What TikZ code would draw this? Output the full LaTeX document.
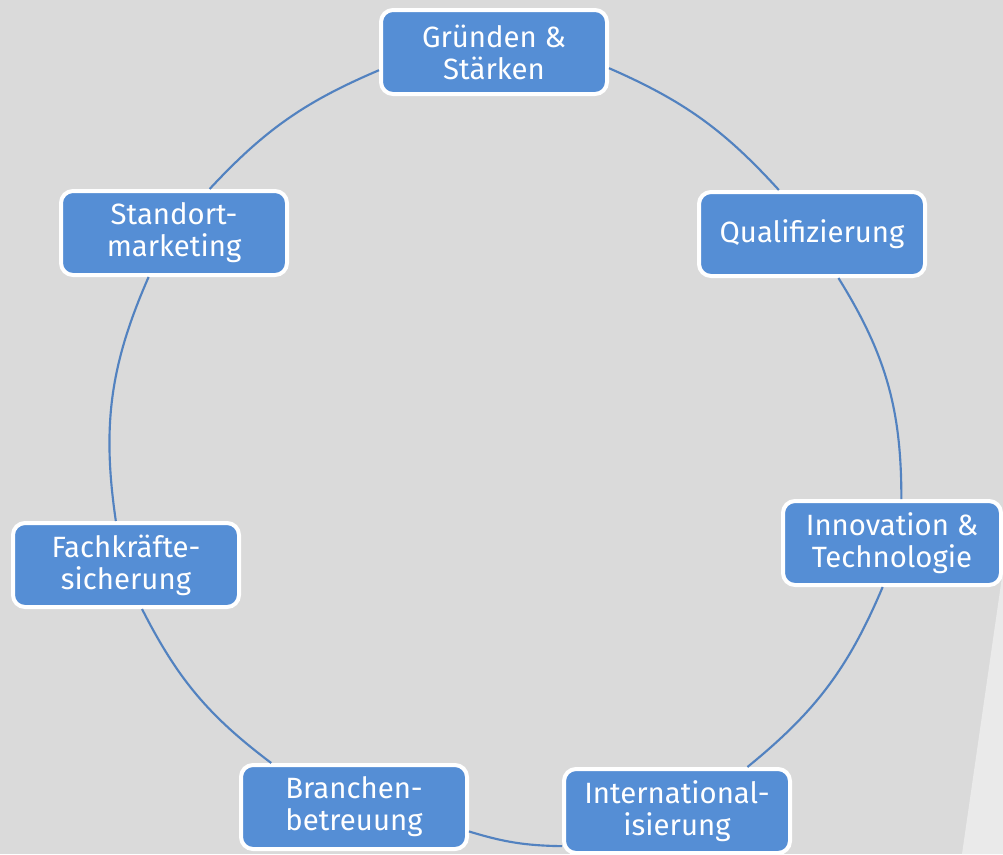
\documentclass[tikz,border=0pt]{standalone}
\usepackage{fontspec}
\setmainfont{Fira Sans}
\usepackage{tikz}

\definecolor{bggray}{RGB}{218,218,218}
\definecolor{bglight}{RGB}{234,234,234}
\definecolor{ringblue}{RGB}{82,130,192}
\definecolor{boxblue}{RGB}{85,142,213}

\tikzset{
  fieldbox/.style={draw=white, line width=3pt, fill=boxblue, rounded corners=9pt,
    text=white, minimum width=169.5pt, minimum height=63pt, align=center,
    inner sep=0pt, font=\fontsize{22}{24}\selectfont},
  ring/.style={draw=ringblue, line width=1.6pt},
}

\begin{document}
\begin{tikzpicture}[x=0.75pt,y=0.75pt,yscale=-1]
%Background
\useasboundingbox (0,0) rectangle (1003,854);
\fill [bggray] (0,0) rectangle (1003,854);
\fill [bglight] (1003,570) -- (962,854) -- (1003,854) -- cycle;

% Text Nodes
\node [fieldbox] (gruenden) at (494,52) {Gründen \&\\Stärken};
\node [fieldbox] (quali) at (812,234) {Qualifizierung};
\node [fieldbox, minimum width=163.5pt] (innovation) at (892,543) {Innovation \&\\Technologie};
\node [fieldbox] (international) at (677,811) {International-\\isierung};
\node [fieldbox] (branchen) at (354,807) {Branchen-\\betreuung};
\node [fieldbox] (fachkraefte) at (126,565) {Fachkräfte-\\sicherung};
\node [fieldbox] (standort) at (174,233) {Standort-\\marketing};

%Arcs
\draw [ring] (gruenden.-8) to [bend right=12] (quali.127);
\draw [ring] (quali.-59) to [bend right=16] (innovation.78);
\draw [ring] (innovation.-102) to [bend right=14] (international.32);
\draw [ring] (international.-163) to [bend right=8] (branchen.-12);
\draw [ring] (branchen.152) to [bend right=13] (fachkraefte.-70);
\draw [ring] (fachkraefte.103) to [bend right=16] (standort.-120);
\draw [ring] (standort.51) to [bend right=12] (gruenden.189);

\end{tikzpicture}
\end{document}
